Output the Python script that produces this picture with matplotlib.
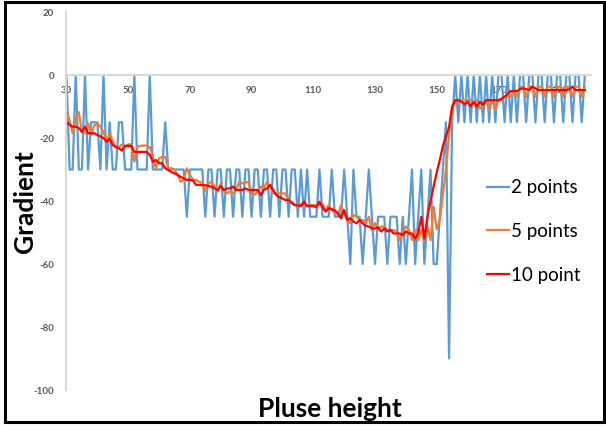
import matplotlib
matplotlib.use("Agg")
import matplotlib.pyplot as plt
from matplotlib.patches import Rectangle
import numpy as np

plt.rcParams['axes.unicode_minus'] = False

# pulse height (category axis)
pulse = np.arange(30, 199)

grad_2pt = [
    0, -30, -30, 0, -30, -30, 0, -30, -15, -15,
    -15, -30, 0, -30, -15, -30, -30, -15, -15, -30,
    -30, -30, 0, -30, -30, -30, -30, 0, -30, -30,
    -30, -30, -15, -30, -30, -30, -30, -30, -30, -45,
    -30, -30, -30, -30, -30, -45, -30, -30, -45, -30,
    -30, -45, -30, -30, -45, -30, -30, -45, -30, -30,
    -45, -30, -30, -45, -30, -30, -45, -30, -30, -45,
    -30, -30, -45, -30, -30, -45, -30, -45, -30, -45,
    -45, -45, -30, -45, -45, -45, -30, -45, -45, -45,
    -30, -45, -60, -30, -45, -45, -60, -45, -30, -45,
    -60, -45, -45, -45, -60, -45, -45, -45, -60, -45,
    -60, -45, -30, -60, -45, -30, -60, -45, -30, -60,
    -60, -45, -30, -15, -90, -15, 0, -15, 0, -15,
    0, -15, 0, -15, 0, -15, 0, -15, 0, -15,
    0, 0, -15, 0, -15, 0, -15, 0, 0, -15,
    0, 0, -15, 0, 0, -15, 0, 0, -15, 0,
    0, -15, 0, 0, -15, 0, 0, -15, 0,
]

grad_5pt = [
    -11.1, -14.5, -18.5, -14.0, -11.8, -18.0, -18.5, -15.3, -19.0, -16.0,
    -15.3, -16.5, -18.0, -21.0, -18.5, -21.0, -23.0, -22.8, -22.0, -22.8,
    -22.0, -22.0, -27.5, -22.8, -22.5, -22.4, -22.4, -22.8, -26.0, -29.6,
    -26.5, -26.0, -26.0, -29.6, -29.6, -30.0, -31.7, -33.9, -33.3, -29.6,
    -31.7, -33.3, -33.3, -33.9, -34.2, -37.0, -34.4, -33.9, -35.4, -37.0,
    -34.4, -37.0, -37.6, -37.0, -37.6, -36.5, -33.9, -34.4, -34.2, -33.9,
    -37.6, -38.0, -37.0, -35.4, -35.9, -33.9, -35.4, -37.6, -37.6, -37.6,
    -37.6, -37.6, -39.7, -40.7, -41.3, -41.3, -41.0, -41.3, -41.3, -41.3,
    -41.3, -41.3, -41.3, -41.0, -42.9, -41.3, -42.9, -43.9, -44.4, -41.3,
    -43.9, -46.0, -47.0, -44.4, -45.0, -46.0, -46.0, -47.0, -45.0, -49.2,
    -47.0, -49.0, -48.1, -48.1, -49.2, -49.2, -49.2, -49.7, -52.4, -50.3,
    -48.1, -49.2, -52.4, -49.2, -52.4, -49.2, -52.4, -48.1, -52.4, -41.8,
    -49.0, -46.0, -38.0, -30.0, -19.0, -11.0, -8.5, -8.5, -8.0, -8.0,
    -8.0, -8.0, -9.0, -8.0, -10.6, -10.0, -8.0, -11.0, -8.0, -11.0,
    -8.0, -8.0, -6.9, -6.9, -6.9, -4.8, -6.9, -3.7, -3.7, -6.9,
    -3.7, -3.7, -6.9, -3.7, -3.7, -6.9, -3.7, -3.7, -6.9, -3.7,
    -3.7, -6.9, -3.7, -3.7, -6.9, -3.7, -3.7, -6.9, -3.7,
]

grad_10pt = [
    -15.0, -15.8, -16.4, -16.4, -16.8, -18.1, -16.4, -18.5, -18.5, -18.5,
    -19.0, -19.5, -20.0, -21.2, -20.3, -22.3, -22.8, -23.3, -24.0, -22.5,
    -22.5, -22.5, -24.4, -24.4, -24.4, -24.4, -24.4, -25.4, -27.5, -27.0,
    -28.0, -28.0, -29.6, -30.2, -30.8, -31.2, -31.7, -32.3, -32.8, -33.3,
    -33.3, -33.5, -34.9, -34.9, -34.9, -35.0, -35.2, -35.5, -36.0, -36.5,
    -35.3, -36.5, -36.0, -36.0, -35.4, -36.5, -36.5, -36.5, -36.0, -36.5,
    -36.5, -36.5, -36.5, -38.1, -36.5, -36.0, -34.9, -36.5, -38.1, -38.8,
    -39.2, -39.7, -39.7, -40.5, -41.3, -41.4, -41.6, -40.2, -41.6, -41.6,
    -41.6, -42.0, -40.2, -42.0, -43.4, -42.3, -42.6, -43.0, -43.9, -45.5,
    -42.9, -46.0, -45.5, -46.5, -47.1, -46.0, -47.1, -47.9, -48.1, -48.7,
    -48.7, -48.4, -49.7, -48.7, -49.7, -49.2, -50.3, -50.3, -50.3, -50.8,
    -49.7, -50.3, -50.3, -51.9, -50.3, -45.0, -51.9, -45.0, -40.0, -35.4,
    -31.0, -27.0, -22.5, -19.5, -16.5, -10.0, -8.0, -8.0, -8.5, -9.3,
    -8.5, -10.0, -8.5, -10.0, -8.5, -9.5, -8.0, -8.0, -8.0, -8.0,
    -8.0, -7.5, -6.9, -6.0, -5.1, -5.1, -5.1, -4.5, -4.2, -4.5,
    -4.8, -3.7, -4.2, -4.8, -4.8, -4.8, -4.8, -4.8, -4.8, -4.8,
    -4.8, -4.8, -4.8, -4.5, -3.7, -4.8, -4.8, -4.8, -4.8,
]

x_ticks = [30, 50, 70, 90, 110, 130, 150, 170, 190]
y_ticks = [-100, -80, -60, -40, -20, 0, 20]

fig = plt.figure(figsize=(6.06, 4.26), dpi=100)
ax = fig.add_axes([0.1097, 0.0845, 0.8655, 0.8873])

ax.plot(pulse, grad_2pt, color='#5b9bd5', lw=1.6, label='2 points', solid_joinstyle='round')
ax.plot(pulse, grad_5pt, color='#ed7d31', lw=1.6, label='5 points', solid_joinstyle='round')
ax.plot(pulse, grad_10pt, color='#ff0000', lw=1.6, label='10 point', solid_joinstyle='round')

ax.set_xlim(30, 200)
ax.set_ylim(-100, 20)

# axis crosses at y = 0, as in the spreadsheet chart
ax.spines['bottom'].set_position(('data', 0))
for s in ['top', 'right']:
    ax.spines[s].set_visible(False)
for s in ['left', 'bottom']:
    ax.spines[s].set_color('#d9d9d9')
    ax.spines[s].set_linewidth(1.5)

ax.set_xticks(x_ticks)
ax.set_yticks(y_ticks)
ax.tick_params(axis='x', length=0, pad=8, labelsize=7, labelcolor='#595959')
ax.tick_params(axis='y', length=0, pad=9, labelsize=7, labelcolor='#595959')
for lab in ax.get_xticklabels() + ax.get_yticklabels():
    lab.set_fontfamily('Lato')
    lab.set_fontweight('bold')

leg = ax.legend(loc='upper left', bbox_to_anchor=(0.77, 0.602), frameon=False,
                handlelength=1.15, handletextpad=0.1, labelspacing=1.42,
                prop={'family': 'Lato', 'size': 13.5})

fig.text(25 / 606, 0.526, 'Gradient', rotation=90, ha='center', va='center',
         fontsize=19, fontweight='bold', family='Lato')
fig.text(330 / 606, 1 - 409 / 426, 'Pluse height', ha='center', va='center',
         fontsize=19, fontweight='bold', family='Lato')

fig.add_artist(Rectangle((5 / 606, 4 / 426), 599 / 606, 420 / 426,
                         transform=fig.transFigure, fill=False,
                         edgecolor='black', linewidth=2.2))

fig.savefig('out.png', dpi=100)
